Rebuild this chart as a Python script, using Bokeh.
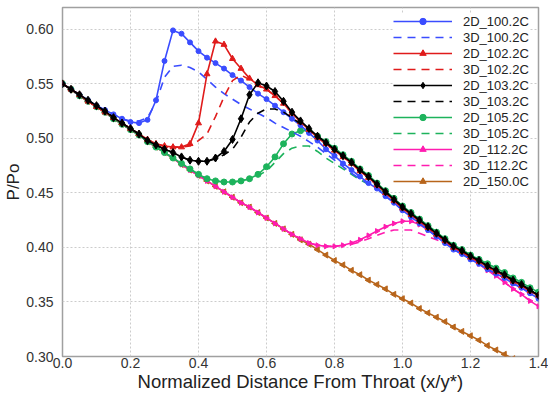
import math
from bokeh.plotting import figure
from bokeh.models import Range1d, FixedTicker, PrintfTickFormatter, Legend, LegendItem
from bokeh.embed import file_html
from bokeh.resources import INLINE

X = [0.000, 0.025, 0.050, 0.075, 0.100, 0.125, 0.150, 0.175, 0.200, 0.225,
     0.250, 0.275, 0.300, 0.325, 0.350, 0.375, 0.400, 0.425, 0.450, 0.475,
     0.500, 0.525, 0.550, 0.575, 0.600, 0.625, 0.650, 0.675, 0.700, 0.725,
     0.750, 0.775, 0.800, 0.825, 0.850, 0.875, 0.900, 0.925, 0.950, 0.975,
     1.000, 1.025, 1.050, 1.075, 1.100, 1.125, 1.150, 1.175, 1.200, 1.225,
     1.250, 1.275, 1.300, 1.325, 1.350, 1.375, 1.400]

blue_2d = [0.550, 0.545, 0.540, 0.535, 0.530, 0.526, 0.522, 0.518, 0.515, 0.514,
           0.517, 0.535, 0.571, 0.599, 0.596, 0.588, 0.580, 0.574, 0.569, 0.564,
           0.558, 0.553, 0.547, 0.541, 0.536, 0.530, 0.524, 0.518, 0.512, 0.505,
           0.498, 0.490, 0.484, 0.477, 0.471, 0.465, 0.459, 0.454, 0.447, 0.441,
           0.434, 0.428, 0.422, 0.416, 0.410, 0.404, 0.398, 0.394, 0.389, 0.385,
           0.380, 0.376, 0.372, 0.367, 0.363, 0.358, 0.353]
blue_3d_mid = [0.516, 0.516, 0.519, 0.533, 0.556, 0.566, 0.567, 0.565, 0.561, 0.554,
               0.547, 0.541, 0.536, 0.531, 0.527, 0.523, 0.519, 0.514, 0.510, 0.506,
               0.502, 0.497, 0.492, 0.486, 0.480, 0.474, 0.468, 0.463, 0.458]

red_2d = [0.550, 0.545, 0.540, 0.534, 0.529, 0.524, 0.519, 0.514, 0.509, 0.504,
          0.499, 0.495, 0.493, 0.492, 0.492, 0.495, 0.514, 0.559, 0.589, 0.586,
          0.573, 0.564, 0.555, 0.549, 0.545, 0.539, 0.532, 0.523, 0.515, 0.508,
          0.501, 0.495, 0.489, 0.483, 0.477, 0.470, 0.464, 0.457, 0.450, 0.443,
          0.436, 0.430, 0.424, 0.418, 0.412, 0.406, 0.400, 0.396, 0.391, 0.387,
          0.382, 0.378, 0.374, 0.369, 0.365, 0.360, 0.356]
red_3d_mid = [0.492, 0.493, 0.498, 0.504, 0.520, 0.538, 0.553, 0.558, 0.554, 0.548, 0.545]

black_2d = [0.550, 0.545, 0.540, 0.535, 0.530, 0.525, 0.519, 0.514, 0.509, 0.504,
            0.498, 0.494, 0.490, 0.487, 0.483, 0.480, 0.479, 0.479, 0.482, 0.488,
            0.499, 0.518, 0.540, 0.551, 0.548, 0.543, 0.534, 0.524, 0.516, 0.509,
            0.502, 0.496, 0.490, 0.484, 0.478, 0.471, 0.465, 0.458, 0.451, 0.444,
            0.437, 0.431, 0.425, 0.419, 0.413, 0.407, 0.401, 0.397, 0.392, 0.388,
            0.383, 0.379, 0.375, 0.370, 0.366, 0.361, 0.356]
black_3d_mid = [0.481, 0.485, 0.490, 0.501, 0.515, 0.523, 0.527, 0.527, 0.524, 0.519, 0.513, 0.508]

green_2d = [0.550, 0.545, 0.539, 0.534, 0.529, 0.524, 0.518, 0.513, 0.508, 0.503,
            0.497, 0.492, 0.487, 0.482, 0.477, 0.472, 0.467, 0.463, 0.461, 0.460,
            0.460, 0.461, 0.463, 0.467, 0.474, 0.483, 0.495, 0.504, 0.507, 0.507,
            0.502, 0.497, 0.491, 0.485, 0.479, 0.472, 0.466, 0.459, 0.452, 0.445,
            0.438, 0.432, 0.426, 0.420, 0.414, 0.408, 0.402, 0.398, 0.393, 0.389,
            0.385, 0.381, 0.377, 0.372, 0.368, 0.363, 0.359]
green_3d_mid = [0.466, 0.470, 0.478, 0.486, 0.491, 0.493, 0.493, 0.488, 0.482, 0.477,
                0.472, 0.467, 0.462, 0.458, 0.454, 0.450]

pink_2d = [0.550, 0.545, 0.539, 0.534, 0.529, 0.524, 0.518, 0.513, 0.508, 0.503,
           0.497, 0.492, 0.487, 0.482, 0.476, 0.471, 0.466, 0.461, 0.456, 0.451,
           0.446, 0.441, 0.437, 0.432, 0.427, 0.422, 0.417, 0.412,
           0.408, 0.404, 0.402, 0.401, 0.401, 0.402, 0.404, 0.407, 0.411, 0.415, 0.419, 0.422,
           0.424, 0.424, 0.421, 0.416, 0.411, 0.405, 0.400, 0.395, 0.390, 0.385,
           0.379, 0.374, 0.368, 0.362, 0.357, 0.351, 0.346]
pink_3d_mid = [0.403, 0.405, 0.408, 0.411, 0.414, 0.416, 0.416, 0.416, 0.413, 0.410, 0.407, 0.404]

brown_2d = [0.550, 0.545, 0.539, 0.534, 0.529, 0.524, 0.518, 0.513, 0.508, 0.503,
            0.497, 0.492, 0.487, 0.482, 0.476, 0.471, 0.466, 0.461, 0.456, 0.451,
            0.446, 0.441, 0.437, 0.432, 0.427, 0.422, 0.417, 0.412, 0.407, 0.403,
            0.398, 0.393, 0.388, 0.384, 0.379, 0.375, 0.370, 0.366, 0.362, 0.357,
            0.353, 0.349, 0.344, 0.340, 0.336, 0.332, 0.327, 0.323, 0.319, 0.315,
            0.310, 0.306, 0.302, 0.298]

blue_3d = blue_2d[:8] + blue_3d_mid + blue_2d[37:]
red_3d = red_2d[:14] + red_3d_mid + red_2d[25:]
black_3d = black_2d[:18] + black_3d_mid + black_2d[30:]
green_3d = green_2d[:23] + green_3d_mid + green_2d[39:]
pink_3d = pink_2d[:34] + pink_3d_mid + pink_2d[46:]

x_ticks = [0.0, 0.2, 0.4, 0.6, 0.8, 1.0, 1.2, 1.4]
y_ticks = [0.30, 0.35, 0.40, 0.45, 0.50, 0.55, 0.60]

BLUE = "#3a4cff"
RED = "#e01b1b"
BLACK = "#000000"
GREEN = "#1db35c"
PINK = "#ff1cb0"
BROWN = "#b8651b"
FONT = "Liberation Sans"

p = figure(width=548, height=398, x_range=Range1d(0, 1.4), y_range=Range1d(0.30, 0.62),
           output_backend="svg", toolbar_location=None,
           min_border_left=62, min_border_right=10, min_border_top=7, min_border_bottom=42)
p.background_fill_color = "white"
p.border_fill_color = "white"
p.outline_line_color = "#a0a0a0"
p.outline_line_width = 1.5

for g in (p.xgrid, p.ygrid):
    g.grid_line_color = "#cccccc"
    g.grid_line_dash = "2 2"
    g.grid_line_width = 1

p.xaxis.ticker = FixedTicker(ticks=x_ticks)
p.yaxis.ticker = FixedTicker(ticks=y_ticks)
p.xaxis.formatter = PrintfTickFormatter(format="%.1f")
p.yaxis.formatter = PrintfTickFormatter(format="%.2f")
for ax in (p.xaxis, p.yaxis):
    ax.axis_line_color = None
    ax.major_tick_line_color = None
    ax.minor_tick_line_color = None
    ax.major_tick_in = 0
    ax.major_tick_out = 0
    ax.minor_tick_in = 0
    ax.minor_tick_out = 0
    ax.major_label_text_font = FONT
    ax.major_label_text_font_size = "14px"
    ax.major_label_text_color = "#333333"
    ax.axis_label_text_font = FONT
    ax.axis_label_text_font_style = "normal"
    ax.axis_label_text_color = "#222222"
p.xaxis.axis_label = "Normalized Distance From Throat (x/y*)"
p.yaxis.axis_label = "P/Po"
p.xaxis.axis_label_text_font_size = "18.5px"
p.yaxis.axis_label_text_font_size = "17px"
p.xaxis.major_label_standoff = 1
p.xaxis.axis_label_standoff = 0
p.yaxis.major_label_standoff = 9
p.yaxis.axis_label_standoff = 0


def add2d(ys, color, label, marker, size, angle=0.0):
    lr = p.line(X[:len(ys)], ys, line_color=color, line_width=1.6)
    sr = p.scatter(X[:len(ys)], ys, marker=marker, size=size, angle=angle,
                   fill_color=color, line_color=color)
    return LegendItem(label=label, renderers=[lr, sr])


def add3d(ys, color, label):
    lr = p.line(X[:len(ys)], ys, line_color=color, line_width=1.6, line_dash="8 6")
    return LegendItem(label=label, renderers=[lr])


it_brown = add2d(brown_2d, BROWN, "2D_150.0C", "triangle", 6, angle=math.pi / 2)
it_p3 = add3d(pink_3d, PINK, "3D_112.2C")
it_p2 = add2d(pink_2d, PINK, "2D_112.2C", "triangle", 5, angle=-math.pi / 2)
it_g3 = add3d(green_3d, GREEN, "3D_105.2C")
it_g2 = add2d(green_2d, GREEN, "2D_105.2C", "circle", 6)
it_b3 = add3d(blue_3d, BLUE, "3D_100.2C")
it_b2 = add2d(blue_2d, BLUE, "2D_100.2C", "circle", 5)
it_r3 = add3d(red_3d, RED, "3D_102.2C")
it_r2 = add2d(red_2d, RED, "2D_102.2C", "triangle", 6)
it_k3 = add3d(black_3d, BLACK, "3D_103.2C")
it_k2 = add2d(black_2d, BLACK, "2D_103.2C", "diamond", 8)

legend = Legend(items=[it_b2, it_b3, it_r2, it_r3, it_k2, it_k3, it_g2, it_g3, it_p2, it_p3, it_brown],
                location=(331, 167), glyph_width=59, glyph_height=16, label_height=16,
                spacing=0, padding=3, margin=0, label_standoff=11,
                label_text_font=FONT, label_text_font_size="13px", label_text_color="#222222",
                border_line_color=None, background_fill_color="white", background_fill_alpha=1.0)
p.add_layout(legend)

open("out.html", "w").write(file_html(p, INLINE))
